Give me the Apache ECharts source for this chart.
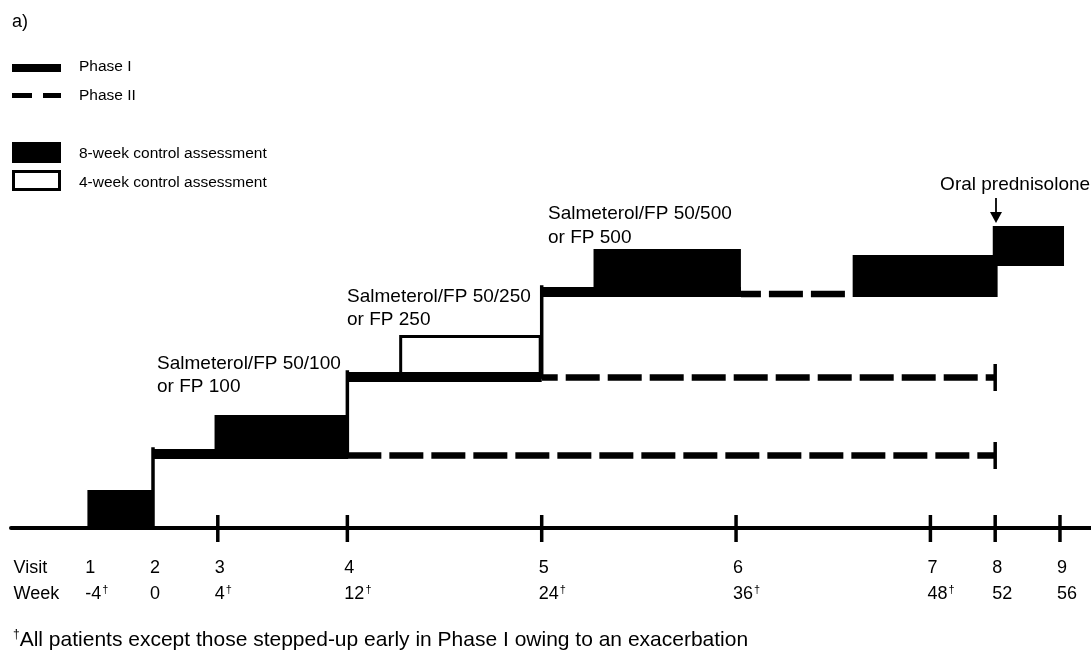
<!DOCTYPE html>
<html><head><meta charset="utf-8">
<script src="https://cdn.jsdelivr.net/npm/echarts@6/dist/echarts.min.js"></script>
<style>html,body{margin:0;padding:0;background:#fff}#c{width:1091px;height:655px}</style>
</head><body><div id="c"></div>
<script>
// ---- data (weeks on x, schematic dose level on y) ----
const visits = ['1','2','3','4','5','6','7','8','9'];
const weeks = [-4,0,4,12,24,36,48,52,56];
const weekMarked = [true,false,true,true,true,true,true,false,false];
const tickWeeks = [4,12,24,36,48,52,56];
// Phase I solid steps: [startWeek, endWeek, level]
const phase1Steps = [[0,12,74],[12,24,151],[24,36.3,236]];
// step-up risers: [week, fromLevel, toLevel]
const risers = [[0,0,74],[12,74,151],[24,151,236]];
// Phase II dashed: [startWeek, endWeek, level, hasEndBar]
const phase2Lines = [[12,52,72.5,1],[24,52,150.5,1],[36.3,43.2,234,0]];
// 8-week control assessments: [startWeek, endWeek, bottom, top]
const assess8 = [[-4.05,0.05,0,38],[3.8,12.05,69,113],[27.2,36.3,231,279],[43.2,52.15,231,273],[51.85,56.25,262,302]];
// 4-week control assessment
const assess4 = [[15.2,24,151,193]];
const doseLabels = ['Salmeterol/FP 50/100\nor FP 100','Salmeterol/FP 50/250\nor FP 250','Salmeterol/FP 50/500\nor FP 500'];
const doseAnchor = [[0.25,152.5],[11.98,219.5],[24.39,302]];
const predLabel = 'Oral prednisolone';
const predAnchor = [48.6,343];
const predArrow = [52.05,330,302];
const headerWeek = -8.43;
const footnote = 'All patients except those stepped-up early in Phase I owing to an exacerbation';

// ---- styles ----
const FONT = 'Liberation Sans, Arial, Helvetica, sans-serif';
const dashOffsets = [0,18,14];

const chart = echarts.init(document.getElementById('c'), null, {renderer:'canvas'});

function lineEl(p0,p1,w,cap){
  return {type:'line',shape:{x1:p0[0],y1:p0[1],x2:p1[0],y2:p1[1]},
    style:{stroke:'#000',lineWidth:w,lineCap:cap||'butt'}};
}

const labelValues = [headerWeek].concat(weeks);

const option = {
  animation:false,
  backgroundColor:'#fff',
  grid:{left:11,right:0,top:0,bottom:127,containLabel:false},
  xAxis:{type:'value',min:-8.768,max:57.916,
    axisLine:{show:true,onZero:false,lineStyle:{color:'#000',width:4}},
    axisTick:{show:false},splitLine:{show:false},
    axisLabel:{customValues:labelValues,align:'left',margin:27,color:'#000',
      fontFamily:FONT,fontSize:18,lineHeight:26,padding:[0,0,0,-3],
      formatter:function(v){
        if (Math.abs(v-headerWeek)<1e-6) return '{v|Visit}\n{w|Week}';
        let i = weeks.findIndex(w=>Math.abs(w-v)<1e-6);
        if (i<0) return '';
        return '{v|'+visits[i]+'}\n{w|'+weeks[i]+'}'+(weekMarked[i]?'{d|\u2020}':'');
      },
      rich:{
        v:{fontFamily:FONT,fontSize:18,lineHeight:26,color:'#000'},
        w:{fontFamily:FONT,fontSize:18,lineHeight:26,color:'#000'},
        d:{fontFamily:FONT,fontSize:11,lineHeight:26,color:'#000',padding:[0,0,9,1]}
      }
    }},
  yAxis:{type:'value',min:0,max:528,show:false},
  graphic:[
    {type:'text',left:12,top:13,style:{text:'a)',fontFamily:FONT,fontSize:18,fill:'#000'}},
    {type:'rect',shape:{x:12,y:64,width:49,height:8},style:{fill:'#000'}},
    {type:'text',x:79,y:67,style:{text:'Phase I',fontFamily:FONT,fontSize:15.5,fill:'#000',verticalAlign:'middle'}},
    {type:'rect',shape:{x:12,y:93,width:20,height:5},style:{fill:'#000'}},
    {type:'rect',shape:{x:43,y:93,width:18,height:5},style:{fill:'#000'}},
    {type:'text',x:79,y:96,style:{text:'Phase II',fontFamily:FONT,fontSize:15.5,fill:'#000',verticalAlign:'middle'}},
    {type:'rect',shape:{x:12,y:142,width:49,height:21},style:{fill:'#000'}},
    {type:'text',x:79,y:154,style:{text:'8-week control assessment',fontFamily:FONT,fontSize:15.5,fill:'#000',verticalAlign:'middle'}},
    {type:'rect',shape:{x:13.5,y:171.5,width:46,height:18},style:{fill:'none',stroke:'#000',lineWidth:3}},
    {type:'text',x:79,y:183,style:{text:'4-week control assessment',fontFamily:FONT,fontSize:15.5,fill:'#000',verticalAlign:'middle'}},
    {type:'text',x:13,y:640,style:{rich:{d:{fontFamily:FONT,fontSize:12,padding:[0,0,10,0],fill:'#000'},t:{fontFamily:FONT,fontSize:21,fill:'#000'}},
      text:'{d|\u2020}{t|'+footnote+'}',verticalAlign:'middle'}}
  ],
  series:[
    // Phase I solid horizontals
    {type:'custom',coordinateSystem:'cartesian2d',data:phase1Steps,z:3,
      renderItem:function(p,api){
        const a=api.coord([api.value(0),api.value(2)]), b=api.coord([api.value(1),api.value(2)]);
        return lineEl(a,b,10);
      }},
    // risers
    {type:'custom',coordinateSystem:'cartesian2d',data:risers,z:3,
      renderItem:function(p,api){
        const a=api.coord([api.value(0),api.value(1)]), b=api.coord([api.value(0),api.value(2)]);
        return lineEl(a,[b[0],b[1]-5],3.5,'square');
      }},
    // Phase II dashed
    {type:'custom',coordinateSystem:'cartesian2d',data:phase2Lines,z:3,
      renderItem:function(p,api){
        const a=api.coord([api.value(0),api.value(2)]), b=api.coord([api.value(1),api.value(2)]);
        const children=[{type:'line',shape:{x1:a[0],y1:a[1],x2:b[0],y2:b[1]},
          style:{stroke:'#000',lineWidth:6.5,lineDash:[34,8],lineDashOffset:dashOffsets[p.dataIndex],lineCap:'butt'}}];
        if (api.value(3)) children.push(lineEl([b[0],b[1]-13.5],[b[0],b[1]+13.5],3.5));
        return {type:'group',children:children};
      }},
    // 8-week assessment blocks
    {type:'custom',coordinateSystem:'cartesian2d',data:assess8,z:4,
      renderItem:function(p,api){
        const a=api.coord([api.value(0),api.value(3)]), b=api.coord([api.value(1),api.value(2)]);
        return {type:'rect',shape:{x:a[0],y:a[1],width:b[0]-a[0],height:b[1]-a[1]},style:{fill:'#000'}};
      }},
    // 4-week assessment box
    {type:'custom',coordinateSystem:'cartesian2d',data:assess4,z:4,
      renderItem:function(p,api){
        const a=api.coord([api.value(0),api.value(3)]), b=api.coord([api.value(1),api.value(2)]);
        return {type:'rect',shape:{x:a[0]+1.5,y:a[1]+1.5,width:b[0]-a[0]-3,height:b[1]-a[1]-1.5},
          style:{fill:'none',stroke:'#000',lineWidth:3}};
      }},
    // axis ticks
    {type:'custom',coordinateSystem:'cartesian2d',data:tickWeeks.map(w=>[w]),z:5,
      renderItem:function(p,api){
        const a=api.coord([api.value(0),0]);
        return lineEl([a[0],a[1]-13],[a[0],a[1]+14],3.5);
      }},
    // dose labels
    {type:'custom',coordinateSystem:'cartesian2d',data:doseAnchor.map((d,i)=>[d[0],d[1],i]),z:5,
      renderItem:function(p,api){
        const a=api.coord([api.value(0),api.value(1)]);
        return {type:'text',x:a[0],y:a[1],style:{text:doseLabels[p.dataIndex],fontFamily:FONT,fontSize:19,
          lineHeight:23.5,fill:'#000',align:'left',verticalAlign:'middle'}};
      }},
    // oral prednisolone label + arrow
    {type:'custom',coordinateSystem:'cartesian2d',data:[[predAnchor[0],predAnchor[1],predArrow[0],predArrow[1],predArrow[2]]],z:5,
      renderItem:function(p,api){
        const t=api.coord([api.value(0),api.value(1)]);
        const s=api.coord([api.value(2),api.value(3)]), e=api.coord([api.value(2),api.value(4)]);
        const tip=e[1]-3;
        return {type:'group',children:[
          {type:'text',x:t[0],y:t[1],style:{text:predLabel,fontFamily:FONT,fontSize:19,fill:'#000',verticalAlign:'middle'}},
          lineEl([s[0],s[1]],[s[0],tip-8],1.8),
          {type:'polygon',shape:{points:[[s[0]-6,tip-11],[s[0]+6,tip-11],[s[0],tip]]},style:{fill:'#000'}}
        ]};
      }}
  ]
};
chart.setOption(option);
</script>
</body></html>
